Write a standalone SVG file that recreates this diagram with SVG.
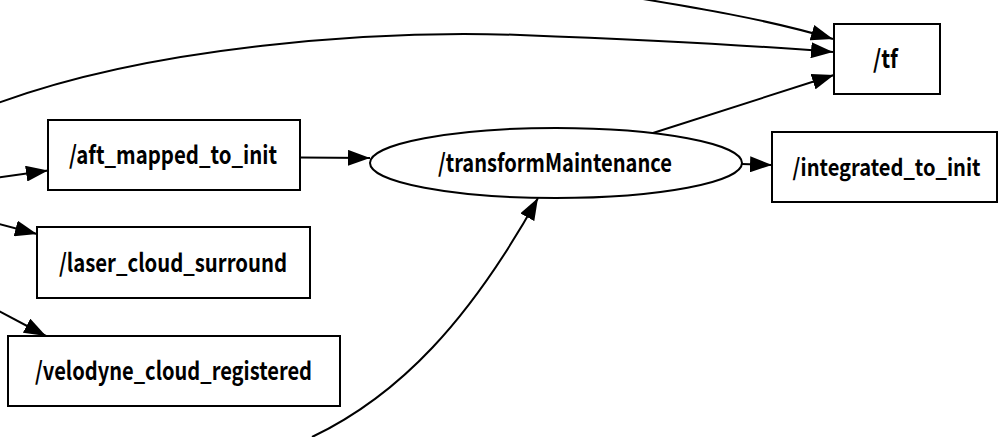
<svg xmlns="http://www.w3.org/2000/svg" width="1000" height="437" viewBox="0 0 1000 437">
<style>
.n{fill:#fff;stroke:#000;stroke-width:2}
.t{font-family:"Noto Sans CJK SC","Noto Sans",sans-serif;font-size:25px;font-weight:600;text-anchor:middle;fill:#000}
.e{fill:none;stroke:#000;stroke-width:2}
</style>
<defs>
<marker id="a" markerUnits="userSpaceOnUse" markerWidth="22" markerHeight="16" refX="22" refY="8" orient="auto">
<polygon points="0,0 22,8 0,16" fill="#000"/>
</marker>
</defs>
<rect width="1000" height="437" fill="#fff"/>
<g id="edges">
<path class="e" d="M600,-8 C700,8 770,20 833,39" marker-end="url(#a)"/>
<path class="e" d="M-10,106 C150,45 380,30 520,35 C650,40 760,46 833,52" marker-end="url(#a)"/>
<path class="e" d="M653,133 L834,75" marker-end="url(#a)"/>
<path class="e" d="M300,157.5 L370,158" marker-end="url(#a)"/>
<path class="e" d="M742,164 L772,165" marker-end="url(#a)"/>
<path class="e" d="M-5,178 L48,170.5" marker-end="url(#a)"/>
<path class="e" d="M-5,223 L37,234" marker-end="url(#a)"/>
<path class="e" d="M-5,309 L46,336" marker-end="url(#a)"/>
<path class="e" d="M312,437 C400,395 470,320 538,198" marker-end="url(#a)"/>
</g>
<g id="tf"><rect class="n" x="834" y="24" width="106" height="70"/><text class="t" x="885.5" y="68" textLength="25" lengthAdjust="spacingAndGlyphs">/tf</text></g>
<g id="integrated_to_init"><rect class="n" x="772" y="132" width="225" height="70"/><text class="t" x="886.5" y="176" style="font-size:23.5px" textLength="188" lengthAdjust="spacingAndGlyphs">/integrated_to_init</text></g>
<g id="aft_mapped_to_init"><rect class="n" x="48" y="120" width="252" height="70"/><text class="t" x="173" y="164" textLength="208" lengthAdjust="spacingAndGlyphs">/aft_mapped_to_init</text></g>
<g id="transformMaintenance"><ellipse class="n" cx="556" cy="163" rx="186" ry="35"/><text class="t" x="555" y="172" textLength="234" lengthAdjust="spacingAndGlyphs">/transformMaintenance</text></g>
<g id="laser_cloud_surround"><rect class="n" x="37" y="227" width="273" height="71"/><text class="t" x="173" y="271.5" textLength="228" lengthAdjust="spacingAndGlyphs">/laser_cloud_surround</text></g>
<g id="velodyne_cloud_registered"><rect class="n" x="8" y="336" width="332" height="70"/><text class="t" x="173.5" y="380" textLength="277" lengthAdjust="spacingAndGlyphs">/velodyne_cloud_registered</text></g>
</svg>
